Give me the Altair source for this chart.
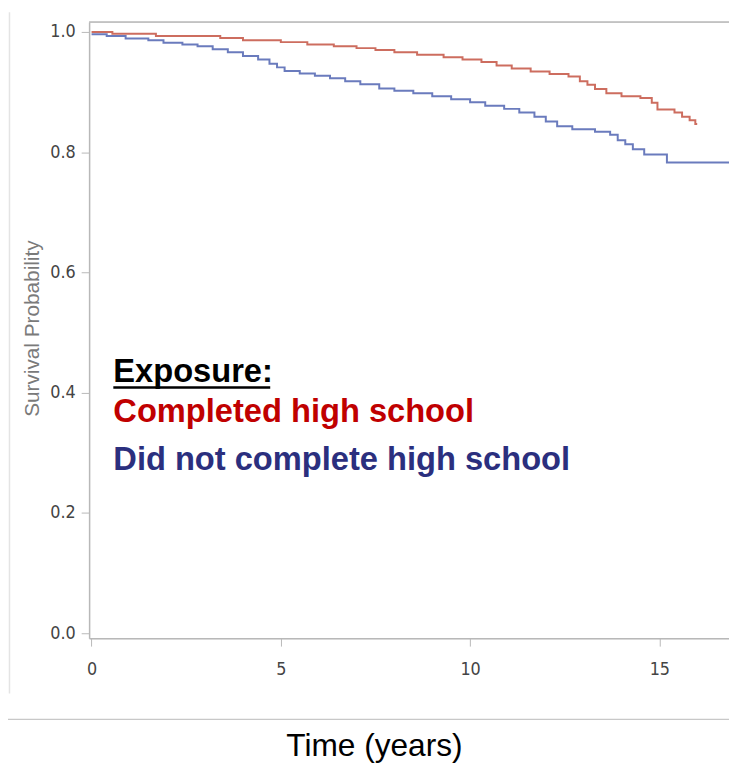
import altair as alt
import pandas as pd

# Kaplan-Meier style step curves
completed_t = [0.0, 0.55, 1.7, 3.4, 4.0, 5.0, 5.7, 6.4, 7.0, 7.5, 8.0, 8.6, 9.3, 9.8, 10.3,
               10.7, 11.1, 11.6, 12.1, 12.6, 12.9, 13.1, 13.3, 13.6, 14.0, 14.5, 14.8, 14.95,
               15.4, 15.6, 15.8, 15.95, 16.0]
completed_s = [1.000, 0.997, 0.993, 0.990, 0.986, 0.983, 0.979, 0.976, 0.973, 0.970, 0.966,
               0.962, 0.958, 0.954, 0.950, 0.944, 0.939, 0.934, 0.930, 0.926, 0.918, 0.912,
               0.905, 0.898, 0.893, 0.890, 0.882, 0.871, 0.866, 0.859, 0.853, 0.847, 0.847]

notcompleted_t = [0.0, 0.4, 0.9, 1.5, 1.9, 2.4, 2.8, 3.2, 3.6, 4.0, 4.4, 4.7, 4.9, 5.1, 5.5,
                  5.9, 6.3, 6.7, 7.1, 7.6, 8.0, 8.5, 9.0, 9.5, 10.0, 10.4, 10.9, 11.3, 11.7,
                  12.0, 12.3, 12.7, 13.3, 13.7, 13.9, 14.1, 14.3, 14.6, 15.2, 16.9]
notcompleted_s = [0.996, 0.993, 0.989, 0.986, 0.982, 0.979, 0.976, 0.971, 0.966, 0.960, 0.954,
                  0.947, 0.941, 0.935, 0.931, 0.927, 0.923, 0.918, 0.913, 0.906, 0.902, 0.898,
                  0.893, 0.888, 0.883, 0.877, 0.872, 0.866, 0.859, 0.851, 0.843, 0.838, 0.834,
                  0.829, 0.820, 0.813, 0.805, 0.796, 0.783, 0.783]

groups = ["Completed high school", "Did not complete high school"]
line_colors = ["#c85d4e", "#5a6db6"]
text_colors = ["#c00000", "#2b2f7e"]

y_ticks = [0.0, 0.2, 0.4, 0.6, 0.8, 1.0]
x_ticks = [0, 5, 10, 15]

legend_title = "Exposure:"
legend_x = [0.575, 0.575, 0.575]
legend_y = [0.417, 0.351, 0.272]
underline_x = [0.575, 4.72]
underline_y = 0.4086

df = pd.concat([
    pd.DataFrame({"time": completed_t, "surv": completed_s, "group": groups[0]}),
    pd.DataFrame({"time": notcompleted_t, "surv": notcompleted_s, "group": groups[1]}),
])

W, H = 647, 623
xscale = alt.Scale(domain=[-0.065, 16.84], nice=False, zero=False)
yscale = alt.Scale(domain=[-0.0082, 1.0164], nice=False, zero=False)
lbl_font = "Liberation Sans Narrow, Arial Narrow, DejaVu Sans Condensed, sans-serif"

lines = alt.Chart(df).mark_line(interpolate="step-after", strokeWidth=2, opacity=0.9).encode(
    x=alt.X("time:Q", scale=xscale,
            axis=alt.Axis(values=x_ticks, title="Time (years)", grid=False,
                          labelFont=lbl_font, labelFontSize=18, labelColor="#444444",
                          tickColor="#b8b8b8", tickSize=8, domainColor="#b8b8b8", domainWidth=1.5,
                          labelPadding=15, format="d",
                          titleFont="Arial, Liberation Sans, sans-serif", titleFontSize=32,
                          titleFontWeight="normal", titleColor="#000000",
                          titleX=288, titleY=119, titleBaseline="alphabetic")),
    y=alt.Y("surv:Q", scale=yscale,
            axis=alt.Axis(values=y_ticks, title="Survival Probability", grid=False, format=".1f",
                          labelFont=lbl_font, labelFontSize=18, labelColor="#444444",
                          tickColor="#b8b8b8", tickSize=8, domainColor="#b8b8b8", domainWidth=1.5,
                          labelPadding=6,
                          titleFont="Arial, Liberation Sans, sans-serif", titleFontSize=21,
                          titleFontWeight="normal", titleColor="#7a7a7a",
                          titleX=-47, titleY=H / 2 - 2)),
    color=alt.Color("group:N", scale=alt.Scale(domain=groups, range=line_colors), legend=None),
)

leg_df = pd.DataFrame({
    "label": [legend_title] + groups,
    "x": legend_x,
    "y": legend_y,
    "kind": ["title", groups[0], groups[1]],
})
legend_text = alt.Chart(leg_df).mark_text(
    align="left", baseline="alphabetic", fontSize=33, fontWeight="bold",
    font="Arial, Liberation Sans, sans-serif",
).encode(
    x=alt.X("x:Q", scale=xscale),
    y=alt.Y("y:Q", scale=yscale),
    text="label:N",
    color=alt.Color("kind:N", scale=alt.Scale(domain=["title"] + groups,
                                              range=["#000000"] + text_colors), legend=None),
)

ul_df = pd.DataFrame({"x": [underline_x[0]], "x2": [underline_x[1]], "y": [underline_y]})
underline = alt.Chart(ul_df).mark_rule(color="#000000", strokeWidth=2.5).encode(
    x=alt.X("x:Q", scale=xscale), x2="x2:Q", y=alt.Y("y:Q", scale=yscale))

# frame top border and slide decorations
deco = pd.DataFrame({"d": [0]})
top_border = alt.Chart(deco).mark_rule(color="#b8b8b8", strokeWidth=1.5).encode(
    x=alt.value(0), x2=alt.value(W), y=alt.value(0))
left_frame = alt.Chart(deco).mark_rule(color="#e4e4e4", strokeWidth=1.5).encode(
    x=alt.value(-80.5), y=alt.value(-10), y2=alt.value(679))
separator = alt.Chart(deco).mark_rule(color="#c8c8c8", strokeWidth=1.2).encode(
    x=alt.value(-83), x2=alt.value(W), y=alt.value(705))

chart = alt.layer(top_border, left_frame, separator, lines, underline, legend_text).resolve_scale(
    color="independent"
).properties(
    width=W, height=H,
    autosize=alt.AutoSizeParams(type="none"),
    padding={"left": 82, "top": 10, "right": 0, "bottom": 122},
).configure_view(stroke=None).configure(background="#ffffff")

chart.save("out.html", embed_options={"renderer": "svg", "actions": False})
